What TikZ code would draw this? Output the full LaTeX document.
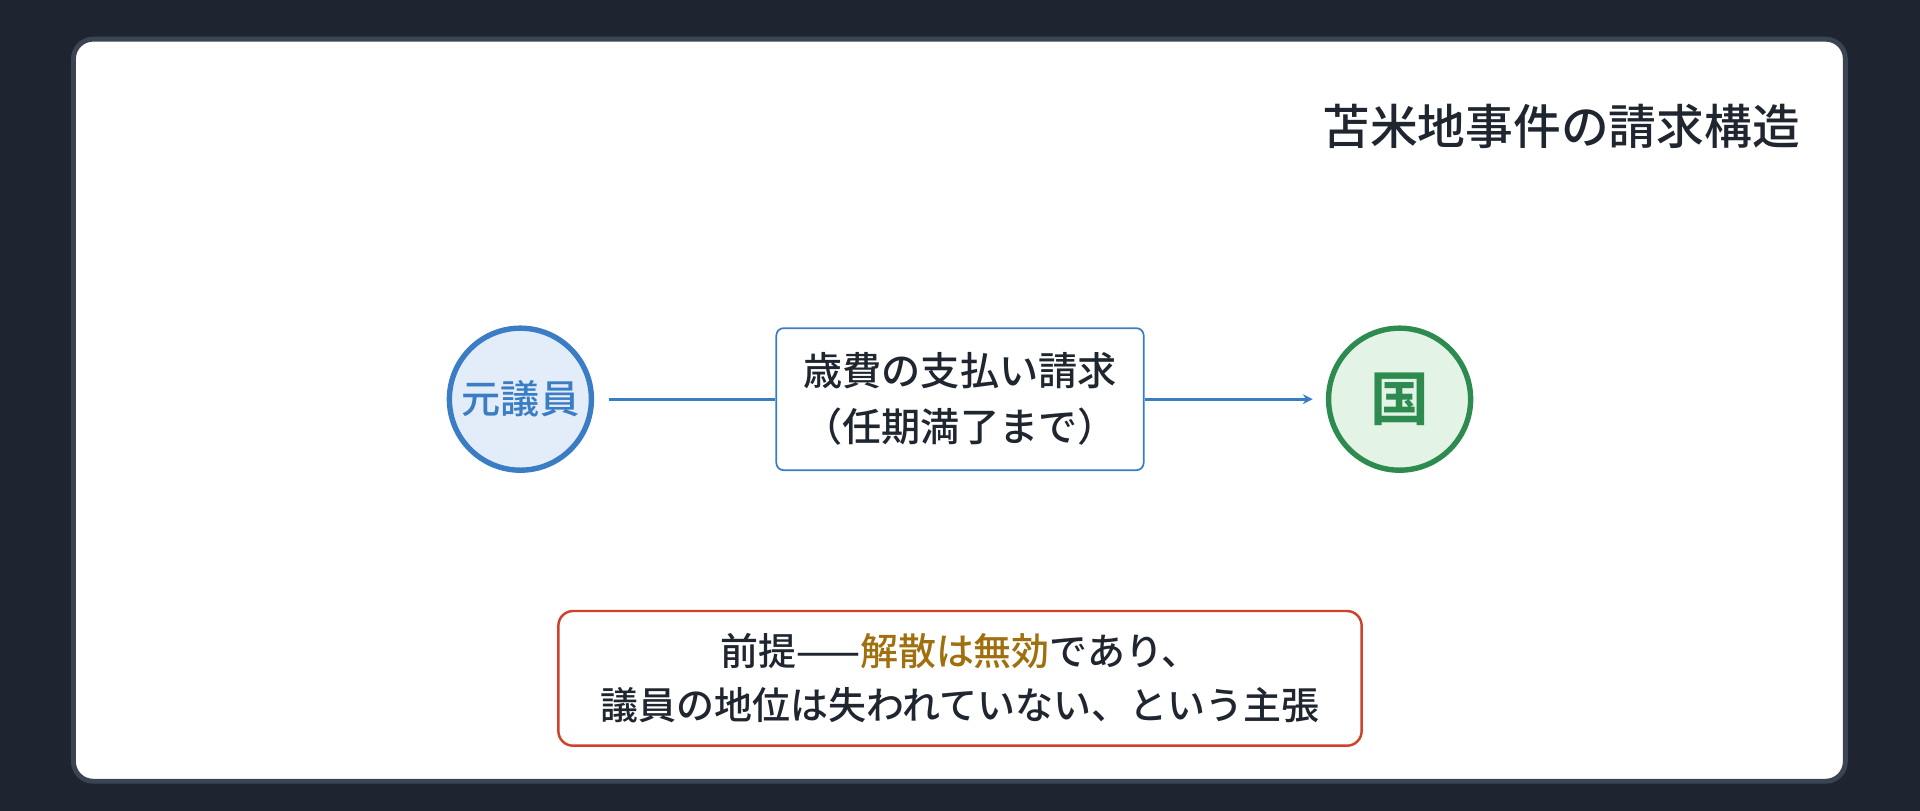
\documentclass[tikz,border=0pt]{standalone}
\usepackage{fontspec}
\setmainfont{Noto Sans CJK JP}[UprightFont=* Medium,BoldFont=* Bold]
\usetikzlibrary{arrows.meta}
\definecolor{bg}{HTML}{1E2530}
\definecolor{pb}{HTML}{3A4452}
\definecolor{blu}{HTML}{3A7DC4}
\definecolor{blf}{HTML}{E3EDF9}
\definecolor{grn}{HTML}{2E8B4F}
\definecolor{grf}{HTML}{E3F4E6}
\definecolor{rd}{HTML}{D0402B}
\definecolor{gold}{HTML}{A0700F}
\definecolor{txt}{HTML}{1F2630}
\begin{document}
\begin{tikzpicture}[x=0.5pt,y=-0.5pt,
  circ/.style={circle,line width=2.2pt,minimum size=58pt,inner sep=0pt,font=\fontsize{16}{18}\selectfont},
  lab/.style={draw=blu,fill=white,rounded corners=3pt,line width=0.7pt,text=txt,align=center,font=\fontsize{16}{23}\selectfont,minimum width=150pt,minimum height=58pt},
  conn/.style={blu,line width=1.1pt}]
\fill[bg] (0,0) rectangle (1568,662);
\useasboundingbox (0,0) rectangle (1568,662);
\filldraw[fill=white,draw=pb,line width=2pt,rounded corners=8pt] (60,32) rectangle (1507,638);
\node[anchor=east,text=txt,font=\fontsize{19.5}{22}\selectfont] (title) at (1477,103) {苫米地事件の請求構造};
\node[circ,draw=blu,fill=blf,text=blu] (a) at (425,326) {元議員};
\node[circ,draw=grn,fill=grf,text=grn,font=\fontsize{24}{26}\selectfont\bfseries] (b) at (1143,326) {国};
\node[lab] (l) at (784,326) {歳費の支払い請求\\（任期満了まで）};
\coordinate (s) at (497,326);
\coordinate (e) at (1072,326);
\draw[conn] (s) -- (l.west);
\draw[conn,-{Stealth[length=4pt,width=4pt]}] (l.east) -- (e);
\node[draw=rd,fill=white,rounded corners=6pt,line width=1pt,text=txt,align=center,font=\fontsize{15.5}{22}\selectfont,minimum width=328pt,minimum height=55pt] (p) at (784,554) {前提——\textcolor{gold}{解散は無効}であり、\\議員の地位は失われていない、という主張};
\end{tikzpicture}
\end{document}
